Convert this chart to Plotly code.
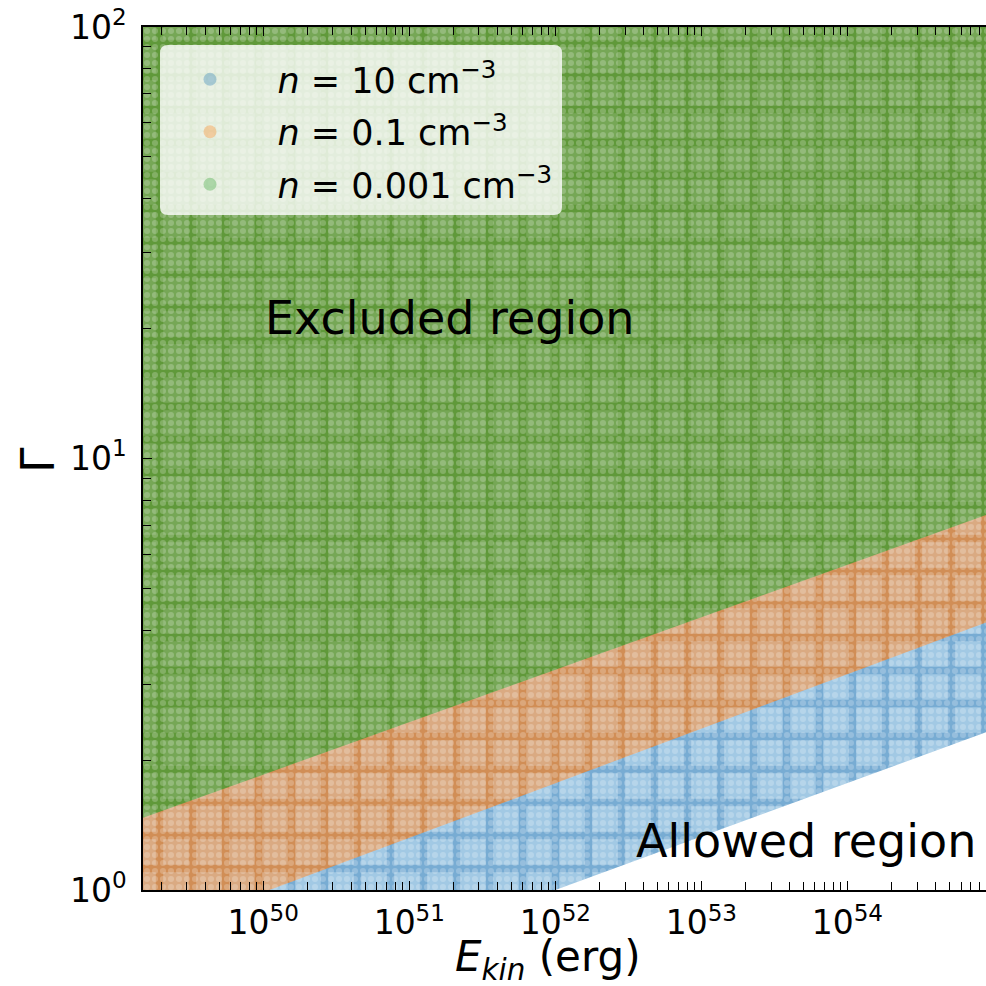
import math
import plotly.graph_objects as go

# Axis limits: kinetic energy (erg) and Lorentz factor
E_LIM = [1.5e49, 8.9e54]
GAMMA_LIM = [1.0, 100.0]

# Lower edge of the excluded region for each ambient density
DENSITY_LABELS = ["10", "0.1", "0.001"]
EDGE_E_N10 = [1.5e49, 1.0e52, 8.9e54]
EDGE_G_N10 = [1.0, 1.0, 2.32]
EDGE_E_N01 = [1.5e49, 1.1e50, 8.9e54]
EDGE_G_N01 = [1.0, 1.0, 4.17]
EDGE_E_N0001 = [1.5e49, 8.9e54]
EDGE_G_N0001 = [1.47, 7.4]

# Tick labels
X_TICK_VALS = [1e50, 1e51, 1e52, 1e53, 1e54]
X_TICK_TEXT = ["10<sup>50</sup>", "10<sup>51</sup>", "10<sup>52</sup>",
               "10<sup>53</sup>", "10<sup>54</sup>"]
Y_TICK_VALS = [1, 10, 100]
Y_TICK_TEXT = ["10<sup>0</sup>", "10<sup>1</sup>", "10<sup>2</sup>"]

FONT = "DejaVu Sans"

# figure geometry (pixels)
W, H = 986, 986
ML, MR, MT, MB = 143, 0, 27, 96
PW, PH = W - ML - MR, H - MT - MB


def px_x(p):
    return (p - ML) / PW


def px_y(p):
    return (H - MB - p) / PH


# region styling: (background, plaid line colour, legend marker colour)
STYLES = [
    ("rgb(162,201,228)", "rgb(120,172,211)", "rgba(31,119,180,0.32)"),
    ("rgb(218,170,130)", "rgb(209,142,86)", "rgba(255,127,14,0.32)"),
    ("rgb(118,167,86)", "rgb(96,153,58)", "rgba(44,160,44,0.32)"),
]

edges = [
    (EDGE_E_N10, EDGE_G_N10),
    (EDGE_E_N01, EDGE_G_N01),
    (EDGE_E_N0001, EDGE_G_N0001),
]

fig = go.Figure()

for label, (ex, eg), (bg, fg, mk) in zip(DENSITY_LABELS, edges, STYLES):
    xs = list(ex) + [E_LIM[1], E_LIM[0]]
    ys = list(eg) + [GAMMA_LIM[1], GAMMA_LIM[1]]
    # plaid base of the excluded region
    fig.add_trace(go.Scatter(
        x=xs, y=ys, mode="none", fill="toself",
        fillcolor=bg,
        fillpattern=dict(shape="+", size=33, solidity=0.4,
                         fgcolor=fg, bgcolor=bg, fillmode="replace"),
        showlegend=False, hoverinfo="skip", legendgroup=label,
    ))
    # fine light checker texture on top
    fig.add_trace(go.Scatter(
        x=xs, y=ys, mode="none", fill="toself",
        fillcolor="rgba(0,0,0,0)",
        fillpattern=dict(shape=".", size=8, solidity=0.45,
                         fgcolor="white", fgopacity=0.22, fillmode="overlay"),
        showlegend=False, hoverinfo="skip", legendgroup=label,
    ))

for label, (bg, fg, mk) in zip(DENSITY_LABELS, STYLES):
    fig.add_trace(go.Scatter(
        x=[None], y=[None], mode="markers",
        marker=dict(size=13, color=mk),
        name="\u2002<i>n</i> = " + label + " cm<sup>\u22123</sup>",
        legendgroup=label,
    ))

# minor tick positions (2..9 within each decade)
def minor_vals(lo, hi):
    out = []
    d0 = math.floor(math.log10(lo))
    d1 = math.ceil(math.log10(hi))
    for d in range(d0, d1 + 1):
        for k in range(2, 10):
            v = k * 10.0 ** d
            if lo < v < hi:
                out.append(v)
    return out

axis_common = dict(
    type="log", showgrid=False, zeroline=False,
    showline=True, linecolor="black", linewidth=1.6,
    ticks="inside", ticklen=9, tickwidth=1.2, tickcolor="black",
    tickfont=dict(family=FONT, size=33, color="black"),
)

fig.update_xaxes(
    **axis_common,
    range=[math.log10(E_LIM[0]), math.log10(E_LIM[1])],
    tickmode="array", tickvals=X_TICK_VALS, ticktext=X_TICK_TEXT,
    minor=dict(tickmode="array", tickvals=minor_vals(*E_LIM),
               ticks="inside", ticklen=8, tickwidth=1.1, tickcolor="black"),
    mirror="allticks",
    ticklabelstandoff=3,
)
fig.update_yaxes(
    **axis_common,
    range=[math.log10(GAMMA_LIM[0]), math.log10(GAMMA_LIM[1])],
    tickmode="array", tickvals=Y_TICK_VALS, ticktext=Y_TICK_TEXT,
    minor=dict(tickmode="array", tickvals=minor_vals(*GAMMA_LIM),
               ticks="inside", ticklen=8, tickwidth=1.1, tickcolor="black"),
    ticklabelstandoff=8,
)

# axis labels
fig.add_annotation(text="<i>E</i><sub><i>kin</i></sub> (erg)",
                   xref="paper", yref="paper", x=px_x(548), y=px_y(959),
                   xanchor="center", yanchor="middle", showarrow=False,
                   font=dict(family=FONT, size=42, color="black"))
fig.add_annotation(text="\u0393", textangle=-90,
                   xref="paper", yref="paper", x=px_x(38), y=px_y(460),
                   xanchor="center", yanchor="middle", showarrow=False,
                   font=dict(family=FONT, size=46, color="black"))

# region labels
fig.add_annotation(text="Excluded region", xref="paper", yref="paper",
                   x=px_x(450), y=px_y(318), xanchor="center", yanchor="middle",
                   showarrow=False,
                   font=dict(family=FONT, size=46, color="black"))
fig.add_annotation(text="Allowed region", xref="paper", yref="paper",
                   x=px_x(806), y=px_y(841), xanchor="center", yanchor="middle",
                   showarrow=False,
                   font=dict(family=FONT, size=46, color="black"))

# rounded, semi-transparent legend frame
x0, x1 = px_x(160), px_x(562)
y0, y1 = px_y(215), px_y(45)
rx, ry = 8 / PW, 8 / PH
frame = (f"M {x0 + rx},{y0} L {x1 - rx},{y0} Q {x1},{y0} {x1},{y0 + ry} "
         f"L {x1},{y1 - ry} Q {x1},{y1} {x1 - rx},{y1} "
         f"L {x0 + rx},{y1} Q {x0},{y1} {x0},{y1 - ry} "
         f"L {x0},{y0 + ry} Q {x0},{y0} {x0 + rx},{y0} Z")
fig.add_shape(type="path", path=frame, xref="paper", yref="paper",
              fillcolor="rgba(255,255,255,0.8)", line=dict(width=0),
              layer="above")

fig.update_layout(
    width=W, height=H,
    margin=dict(l=ML, r=MR, t=MT, b=MB, autoexpand=False),
    paper_bgcolor="white", plot_bgcolor="white",
    font=dict(family=FONT, color="black"),
    legend=dict(
        x=px_x(160), y=px_y(50), xanchor="left", yanchor="top",
        bgcolor="rgba(0,0,0,0)", borderwidth=0,
        font=dict(family=FONT, size=35, color="black"),
        itemwidth=90, tracegroupgap=4,
    ),
)

fig.write_html("out.html")
